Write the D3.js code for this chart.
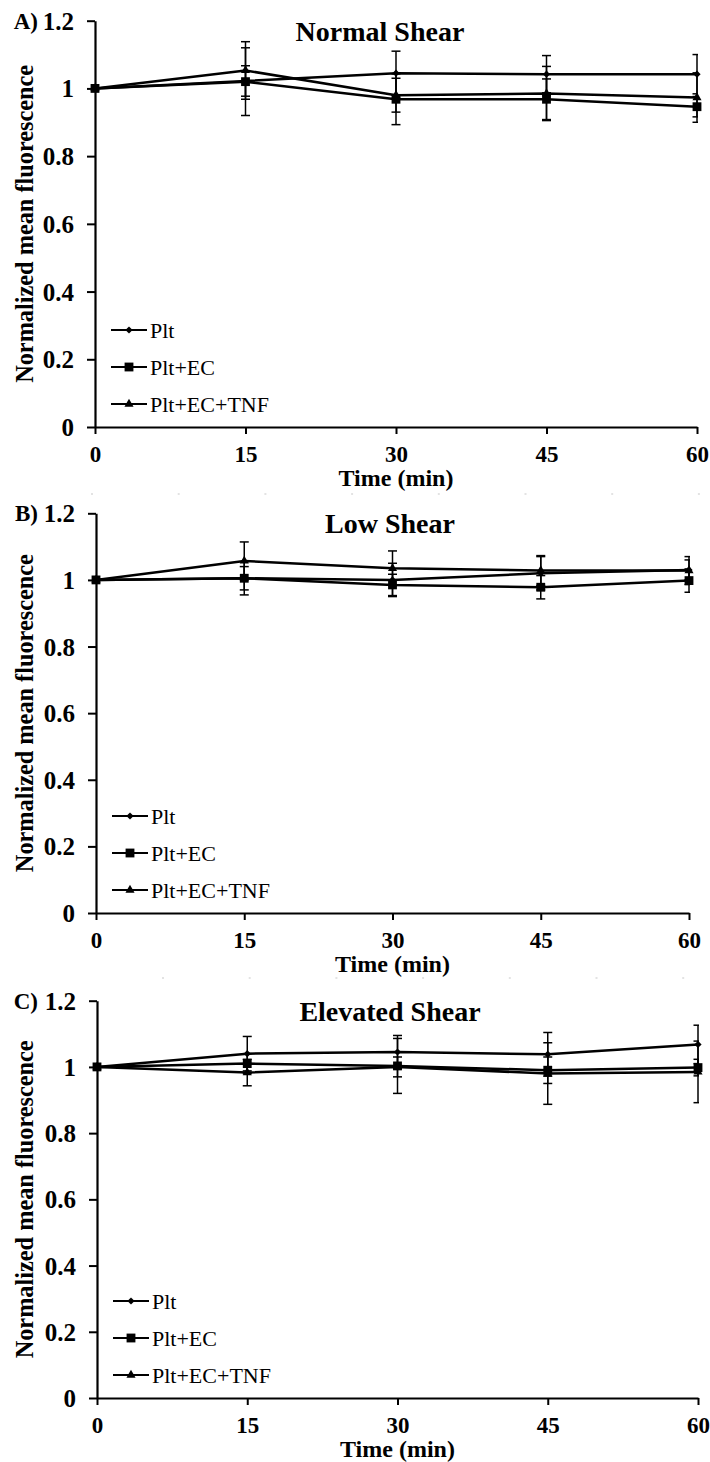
<!DOCTYPE html>
<html>
<head>
<meta charset="utf-8">
<script src="https://cdn.jsdelivr.net/npm/d3@7"></script>
<style>
  html, body { margin: 0; padding: 0; background: #fff; }
  svg { display: block; }
</style>
</head>
<body>
<svg id="fig" width="710" height="1462"></svg>
<script>
// ---- data -------------------------------------------------------------
const times = [0, 15, 30, 45, 60];
const xTicks = [0, 15, 30, 45, 60];
const yTicks = [0, 0.2, 0.4, 0.6, 0.8, 1, 1.2];
const seriesNames = ["Plt", "Plt+EC", "Plt+EC+TNF"];
const panelLetters = ["A)", "B)", "C)"];
const panelTitles = ["Normal Shear", "Low Shear", "Elevated Shear"];

// A) normal shear
const normalPlt      = [1, 1.022, 1.045, 1.042, 1.042];
const normalPltEC    = [1, 1.020, 0.968, 0.968, 0.946];
const normalPltECTNF = [1, 1.053, 0.980, 0.985, 0.973];
const normalPltErr      = [0, 0.045, 0.065, 0.055, 0.058];
const normalPltECErr    = [0, 0.100, 0.075, 0.060, 0.030];
const normalPltECTNFErr = [0, 0.085, 0.050, 0.080, 0.073];

// B) low shear
const lowPlt      = [1, 1.005, 1.000, 1.020, 1.030];
const lowPltEC    = [1, 1.005, 0.985, 0.978, 0.998];
const lowPltECTNF = [1, 1.057, 1.035, 1.028, 1.028];
const lowPltErr      = [0, 0.050, 0.050, 0.050, 0.030];
const lowPltECErr    = [0, 0.035, 0.032, 0.035, 0.035];
const lowPltECTNFErr = [0, 0.057, 0.052, 0.045, 0.042];

// C) elevated shear
const elevPlt      = [1, 1.040, 1.045, 1.038, 1.068];
const elevPltEC    = [1, 1.010, 1.003, 0.990, 0.998];
const elevPltECTNF = [1, 0.983, 1.000, 0.980, 0.985];
const elevPltErr      = [0, 0.052, 0.050, 0.066, 0.058];
const elevPltECErr    = [0, 0.030, 0.083, 0.040, 0.025];
const elevPltECTNFErr = [0, 0.040, 0.030, 0.093, 0.093];

const panelValues = [
  [normalPlt, normalPltEC, normalPltECTNF],
  [lowPlt, lowPltEC, lowPltECTNF],
  [elevPlt, elevPltEC, elevPltECTNF]
];
const panelErrors = [
  [normalPltErr, normalPltECErr, normalPltECTNFErr],
  [lowPltErr, lowPltECErr, lowPltECTNFErr],
  [elevPltErr, elevPltECErr, elevPltECTNFErr]
];

// ---- layout -----------------------------------------------------------
const frames = [
  { left: 95, right: 697, top: 20.7,  bottom: 427,  titleX: 380 },
  { left: 96, right: 689, top: 513.3, bottom: 913,  titleX: 390 },
  { left: 97, right: 698, top: 1000.7, bottom: 1398, titleX: 390 }
];
const SERIF = "'Liberation Serif', 'Times New Roman', serif";

const svg = d3.select("#fig");

// marker shapes: diamond, square, triangle
const markerPath = [
  d3.symbol().type(d3.symbolSquare).size(26)(),
  d3.symbol().type(d3.symbolSquare).size(78)(),
  d3.symbol().type(d3.symbolTriangle).size(36)()
];
const markerRotate = [45, 0, 0];

function drawMarker(g, k, cx, cy) {
  g.append("path")
    .attr("d", markerPath[k])
    .attr("transform", `translate(${cx},${cy}) rotate(${markerRotate[k]})`)
    .attr("fill", "#000");
}

// faint dotted separators between panels
[494, 978].forEach((yy, i) => {
  svg.append("line")
    .attr("x1", i === 0 ? 91 : 162).attr("x2", 705)
    .attr("y1", yy).attr("y2", yy)
    .attr("stroke", "#c8c8c8").attr("stroke-width", 1.2)
    .attr("stroke-dasharray", "2 84.7");
});

frames.forEach((f, p) => {
  const g = svg.append("g");
  const x = d3.scaleLinear().domain([0, 60]).range([f.left, f.right]);
  const y = d3.scaleLinear().domain([0, 1.2]).range([f.bottom, f.top]);

  // clip so error bar caps stop at the plot edge
  const clipId = "clip" + p;
  svg.append("clipPath").attr("id", clipId)
    .append("rect")
    .attr("x", f.left - 1).attr("y", f.top - 30)
    .attr("width", f.right - f.left + 2).attr("height", f.bottom - f.top + 30);

  // y axis
  const yAxis = g.append("g")
    .attr("transform", `translate(${f.left},0)`)
    .call(d3.axisLeft(y).tickValues(yTicks).tickSize(8).tickSizeOuter(0)
      .tickPadding(13).tickFormat(d3.format("~g")));
  // x axis
  const xAxis = g.append("g")
    .attr("transform", `translate(0,${f.bottom})`)
    .call(d3.axisBottom(x).tickValues(xTicks).tickSize(7).tickSizeOuter(0)
      .tickPadding(11).tickFormat(d3.format("d")));

  [yAxis, xAxis].forEach(ax => {
    ax.select(".domain").attr("stroke", "#000").attr("stroke-width", 2.2);
    ax.selectAll(".tick line").attr("stroke", "#000").attr("stroke-width", 2);
    ax.selectAll(".tick text")
      .attr("fill", "#000")
      .style("font-family", SERIF)
      .style("font-weight", "bold");
  });
  yAxis.selectAll(".tick text").attr("dy", "0.34em").style("font-size", "25px");
  xAxis.selectAll(".tick text").attr("dy", "0.72em").style("font-size", "23px");

  // panel letter, set flush against the top tick label
  g.append("text")
    .attr("x", 38).attr("y", f.top + 8)
    .attr("text-anchor", "end")
    .style("font-family", SERIF).style("font-weight", "bold").style("font-size", "23px")
    .text(panelLetters[p]);

  // title
  g.append("text")
    .attr("x", f.titleX).attr("y", f.top + 20)
    .attr("text-anchor", "middle")
    .style("font-family", SERIF).style("font-weight", "bold").style("font-size", "28px")
    .text(panelTitles[p]);

  // axis titles
  g.append("text")
    .attr("x", (f.left + f.right) / 2).attr("y", f.bottom + 59)
    .attr("text-anchor", "middle")
    .style("font-family", SERIF).style("font-weight", "bold").style("font-size", "24px")
    .text("Time (min)");

  g.append("text")
    .attr("transform", `translate(33,${(f.top + f.bottom) / 2}) rotate(-90)`)
    .attr("text-anchor", "middle")
    .attr("textLength", 318).attr("lengthAdjust", "spacingAndGlyphs")
    .style("font-family", SERIF).style("font-weight", "bold").style("font-size", "25px")
    .text("Normalized mean fluorescence");

  const values = panelValues[p];
  const errors = panelErrors[p];
  const clipped = g.append("g").attr("clip-path", `url(#${clipId})`);

  // error bars
  values.forEach((vals, k) => {
    vals.forEach((v, i) => {
      const e = errors[k][i];
      if (!e) return;
      const cx = x(times[i]);
      clipped.append("line")
        .attr("x1", cx).attr("x2", cx)
        .attr("y1", y(v - e)).attr("y2", y(v + e))
        .attr("stroke", "#000").attr("stroke-width", 1.5);
      [v - e, v + e].forEach(c => {
        clipped.append("line")
          .attr("x1", cx - 4.5).attr("x2", cx + 4.5)
          .attr("y1", y(c)).attr("y2", y(c))
          .attr("stroke", "#000").attr("stroke-width", 1.5);
      });
    });
  });

  // series lines
  const line = d3.line().x((d, i) => x(times[i])).y(d => y(d));
  values.forEach(vals => {
    clipped.append("path")
      .datum(vals)
      .attr("d", line)
      .attr("fill", "none")
      .attr("stroke", "#000")
      .attr("stroke-width", 2.5)
      .attr("stroke-linejoin", "round");
  });

  // markers
  values.forEach((vals, k) => {
    vals.forEach((v, i) => drawMarker(g, k, x(times[i]), y(v)));
  });

  // legend
  const legendOffsets = [-97, -60, -23];
  seriesNames.forEach((name, k) => {
    const ly = f.bottom + legendOffsets[k];
    const lx = f.left + 16;
    g.append("line")
      .attr("x1", lx).attr("x2", lx + 36)
      .attr("y1", ly).attr("y2", ly)
      .attr("stroke", "#000").attr("stroke-width", 2.2);
    drawMarker(g, k, lx + 18, ly);
    g.append("text")
      .attr("x", lx + 39).attr("y", ly + 7.5)
      .style("font-family", SERIF).style("font-size", "22px")
      .text(name);
  });
});
</script>
</body>
</html>
